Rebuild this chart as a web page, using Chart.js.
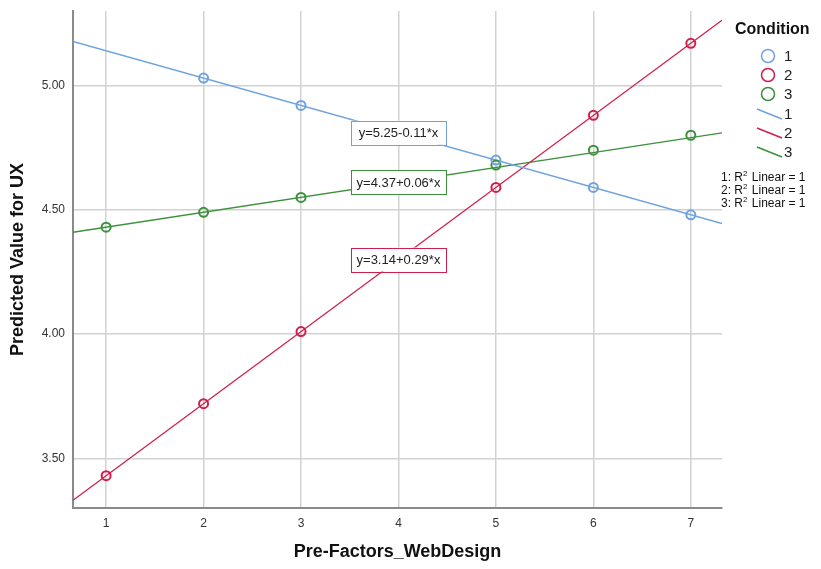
<!DOCTYPE html>
<html>
<head>
<meta charset="utf-8">
<script src="https://cdn.jsdelivr.net/npm/chart.js@4"></script>
<style>
  html, body { margin: 0; padding: 0; background: #fff; }
  canvas { display: block; }
</style>
</head>
<body>
<canvas id="chart" width="821" height="569"></canvas>
<script>
// Data
const conditions = ['1', '2', '3'];
const xTicks = [1, 2, 3, 4, 5, 6, 7];
const yTicks = [3.5, 4.0, 4.5, 5.0];
const x1 = [2, 3, 5, 6, 7];
const y1 = [5.03, 4.92, 4.70, 4.59, 4.48];
const x2 = [1, 2, 3, 5, 6, 7];
const y2 = [3.43, 3.72, 4.01, 4.59, 4.88, 5.17];
const x3 = [1, 2, 3, 5, 6, 7];
const y3 = [4.43, 4.49, 4.55, 4.68, 4.74, 4.80];
const intercepts = [5.25, 3.14, 4.37];
const slopes = [-0.11, 0.29, 0.06];
const rSquared = [1, 1, 1];

const colors = ['#6fa3e0', '#d01e4c', '#3c913c'];
const FONT = '"Liberation Sans", Arial, sans-serif';
const X_MIN = 0.66, X_MAX = 7.32, Y_MIN = 3.30, Y_MAX = 5.30;

const xs = [x1, x2, x3];
const ys = [y1, y2, y3];

const pointSets = conditions.map((c, i) => ({
  label: c,
  data: xs[i].map((x, j) => ({ x: x, y: ys[i][j] })),
  showLine: false,
  pointRadius: 4.5,
  pointHoverRadius: 4.5,
  pointBorderWidth: 2,
  borderColor: colors[i],
  backgroundColor: 'rgba(0,0,0,0)',
  order: 1
}));

// fit lines y = a + b*x across the whole x range
const fitSets = conditions.map((c, i) => ({
  label: c,
  data: [X_MIN, X_MAX].map(x => ({ x: x, y: intercepts[i] + slopes[i] * x })),
  showLine: true,
  pointRadius: 0,
  borderWidth: 1.3,
  borderColor: colors[i],
  backgroundColor: colors[i],
  order: 2
}));

function eqText(i) {
  const b = slopes[i];
  return 'y=' + intercepts[i].toFixed(2) + (b < 0 ? '-' : '+') + Math.abs(b).toFixed(2) + '*x';
}

// equation boxes
const eqPos = [{ x: 4.0, y: 4.81 }, { x: 4.0, y: 4.30 }, { x: 4.0, y: 4.61 }];

const eqLabels = {
  id: 'eqLabels',
  afterDatasetsDraw(chart) {
    const ctx = chart.ctx;
    const sx = chart.scales.x, sy = chart.scales.y;
    ctx.save();
    ctx.font = '13px ' + FONT;
    ctx.textAlign = 'center';
    ctx.textBaseline = 'middle';
    conditions.forEach((c, i) => {
      const cx = sx.getPixelForValue(eqPos[i].x);
      const cy = sy.getPixelForValue(eqPos[i].y);
      const w = 95, h = 24;
      ctx.fillStyle = '#fff';
      ctx.fillRect(cx - w / 2, cy - h / 2, w, h);
      ctx.strokeStyle = colors[i];
      ctx.lineWidth = 1;
      ctx.strokeRect(Math.round(cx - w / 2) + 0.5, Math.round(cy - h / 2) + 0.5, w, h);
      ctx.fillStyle = '#222';
      ctx.fillText(eqText(i), cx, cy + 1);
    });
    ctx.restore();
  }
};

// SPSS style legend on the right
const sideLegend = {
  id: 'sideLegend',
  afterDraw(chart) {
    const ctx = chart.ctx;
    ctx.save();
    ctx.textBaseline = 'middle';
    ctx.textAlign = 'left';
    ctx.fillStyle = '#111';
    ctx.font = 'bold 16px ' + FONT;
    ctx.fillText('Condition', 735, 30);

    ctx.font = '15px ' + FONT;
    conditions.forEach((c, i) => {
      const cy = 56 + i * 19;
      ctx.beginPath();
      ctx.arc(768, cy, 6.5, 0, Math.PI * 2);
      ctx.strokeStyle = colors[i];
      ctx.lineWidth = 1.5;
      ctx.stroke();
      ctx.fillStyle = '#222';
      ctx.fillText(c, 784, cy + 1);
    });
    conditions.forEach((c, i) => {
      const cy = 114 + i * 19;
      ctx.beginPath();
      ctx.moveTo(757, cy - 5);
      ctx.lineTo(782, cy + 5);
      ctx.strokeStyle = colors[i];
      ctx.lineWidth = 1.5;
      ctx.stroke();
      ctx.fillStyle = '#222';
      ctx.fillText(c, 784, cy + 1);
    });

    conditions.forEach((c, i) => {
      const cy = 178 + i * 13;
      let x = 721;
      ctx.fillStyle = '#111';
      ctx.font = '12px ' + FONT;
      const a = c + ': R';
      ctx.fillText(a, x, cy);
      x += ctx.measureText(a).width;
      ctx.font = '8px ' + FONT;
      ctx.fillText('2', x, cy - 4);
      x += ctx.measureText('2').width + 1;
      ctx.font = '12px ' + FONT;
      ctx.fillText(' Linear = ' + rSquared[i], x, cy);
    });
    ctx.restore();
  }
};

new Chart(document.getElementById('chart'), {
  type: 'scatter',
  data: { datasets: fitSets.concat(pointSets) },
  options: {
    responsive: false,
    animation: false,
    layout: { padding: { top: 11, right: 99, left: 0, bottom: 0 } },
    plugins: {
      legend: { display: false },
      tooltip: { enabled: false }
    },
    scales: {
      x: {
        type: 'linear',
        min: X_MIN,
        max: X_MAX,
        offset: false,
        afterBuildTicks: s => { s.ticks = xTicks.map(v => ({ value: v })); },
        afterFit: s => { s.height = 61; s.paddingLeft = 0; s.paddingRight = 0; },
        grid: { color: '#d2d2d2', lineWidth: 1.5, drawTicks: false },
        border: { color: '#8a8a8a', width: 2 },
        ticks: { padding: 8, color: '#333', font: { size: 12, family: FONT }, maxRotation: 0 },
        title: {
          display: true,
          text: 'Pre-Factors_WebDesign',
          color: '#111',
          font: { size: 18, weight: 'bold', family: FONT },
          padding: { top: 0, bottom: 6 }
        }
      },
      y: {
        type: 'linear',
        min: Y_MIN,
        max: Y_MAX,
        afterBuildTicks: s => { s.ticks = yTicks.map(v => ({ value: v })); },
        afterFit: s => { s.width = 73; s.paddingTop = 0; s.paddingBottom = 0; },
        grid: { color: '#d2d2d2', lineWidth: 1.5, drawTicks: false },
        border: { color: '#8a8a8a', width: 2 },
        ticks: {
          padding: 8,
          color: '#333',
          font: { size: 12, family: FONT },
          callback: v => Number(v).toFixed(2)
        },
        title: {
          display: true,
          text: 'Predicted Value for UX',
          color: '#111',
          font: { size: 18, weight: 'bold', family: FONT },
          padding: { top: 7, bottom: 0 }
        }
      }
    }
  },
  plugins: [eqLabels, sideLegend]
});
</script>
</body>
</html>
